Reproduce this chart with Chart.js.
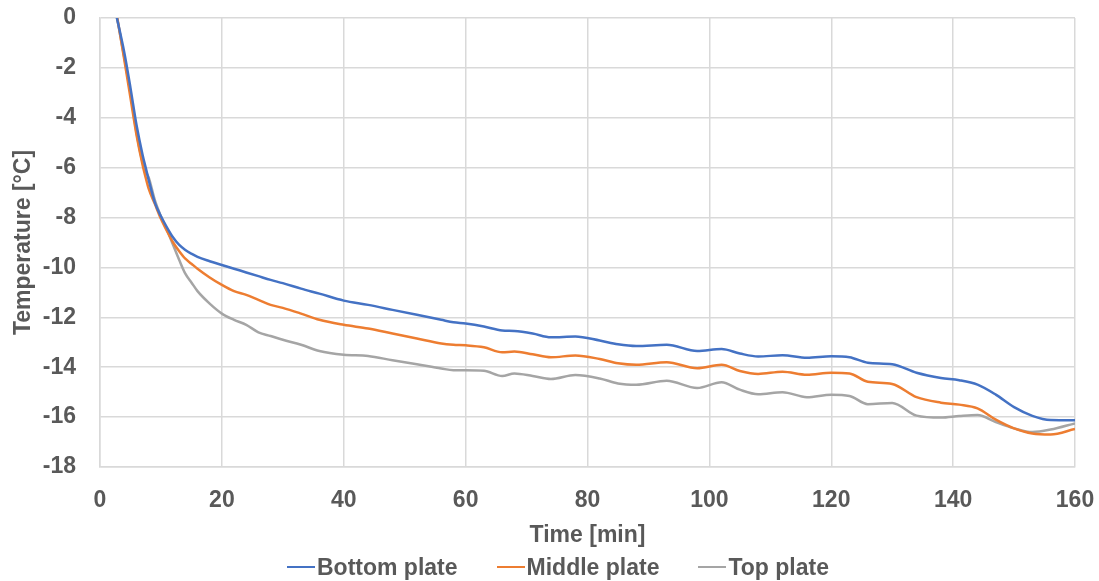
<!DOCTYPE html>
<html>
<head>
<meta charset="utf-8">
<script src="https://cdn.jsdelivr.net/npm/chart.js@4/dist/chart.umd.min.js"></script>
<style>
  html, body { margin: 0; padding: 0; background: #fff; }
  #wrap { width: 1099px; height: 581px; position: relative; }
  #legend {
    position: absolute; left: 287px; top: 553px; height: 28px;
    display: flex; align-items: center; gap: 39px;
    font: bold 23px "Liberation Sans", Arial, sans-serif; color: #595959;
    white-space: nowrap;
  }
  #legend .item { display: flex; align-items: center; }
  #legend .swatch { display: inline-block; width: 28px; height: 2.5px; margin-right: 2px; }
</style>
</head>
<body>
<div id="wrap">
  <canvas id="tempChart"></canvas>
  <div id="legend"></div>
</div>
<script>
// time axis in minutes, shared by all three plates
const minutes = [2.5, 4, 5, 6, 7, 7.5, 8, 9, 10, 11,
  12, 13, 14, 15, 16, 18, 20, 22, 24, 26,
  28, 30, 33, 36, 40, 44, 48, 52, 56, 58,
  60, 63, 66, 68, 71, 74, 78, 82, 85, 88,
  93, 98, 102, 105, 108, 112, 116, 120, 123, 126,
  130, 134, 138, 141, 144, 147, 150, 153, 156, 160];

const bottomPlate = [0.3, -1.4, -2.8, -4.3, -5.5, -6.0, -6.5, -7.4, -7.95, -8.4,
  -8.8, -9.1, -9.3, -9.45, -9.58, -9.75, -9.9, -10.05, -10.2, -10.35,
  -10.5, -10.63, -10.85, -11.05, -11.33, -11.5, -11.7, -11.9, -12.1, -12.2,
  -12.25, -12.37, -12.53, -12.55, -12.65, -12.8, -12.77, -12.93, -13.08, -13.15,
  -13.1, -13.35, -13.27, -13.45, -13.57, -13.52, -13.62, -13.56, -13.6, -13.82,
  -13.88, -14.22, -14.43, -14.52, -14.7, -15.1, -15.6, -15.95, -16.12, -16.13];

const middlePlate = [0.5, -1.7, -3.2, -4.7, -5.9, -6.4, -6.85, -7.45, -8.05, -8.55,
  -9.0, -9.35, -9.65, -9.85, -10.05, -10.4, -10.7, -10.95, -11.1, -11.3,
  -11.5, -11.62, -11.85, -12.1, -12.3, -12.45, -12.65, -12.85, -13.05, -13.1,
  -13.12, -13.2, -13.4, -13.37, -13.48, -13.6, -13.53, -13.67, -13.84, -13.9,
  -13.8, -14.04, -13.9, -14.15, -14.27, -14.18, -14.3, -14.22, -14.25, -14.58,
  -14.67, -15.2, -15.42, -15.5, -15.65, -16.1, -16.45, -16.66, -16.7, -16.48];

const topPlate = [0.4, -1.6, -3.0, -4.6, -5.8, -6.15, -6.4, -7.3, -7.95, -8.5,
  -9.1, -9.7, -10.25, -10.6, -10.95, -11.45, -11.85, -12.1, -12.3, -12.6,
  -12.75, -12.9, -13.1, -13.35, -13.5, -13.55, -13.72, -13.88, -14.05, -14.12,
  -14.12, -14.14, -14.35, -14.25, -14.35, -14.47, -14.31, -14.45, -14.65, -14.7,
  -14.54, -14.83, -14.6, -14.9, -15.08, -15.0, -15.2, -15.1, -15.15, -15.48,
  -15.43, -15.94, -16.02, -15.96, -15.92, -16.2, -16.45, -16.6, -16.5, -16.25];

const seriesNames = ['Bottom plate', 'Middle plate', 'Top plate'];
const seriesColors = ['#4472C4', '#ED7D31', '#A5A5A5'];
const xTicks = [0, 20, 40, 60, 80, 100, 120, 140, 160];
const yTicks = [0, -2, -4, -6, -8, -10, -12, -14, -16, -18];

const textColor = '#595959';
const gridColor = '#d9d9d9';
const font = { family: '"Liberation Sans", Arial, sans-serif', size: 23, weight: 'bold' };

function toPoints(values) {
  return values.map((v, i) => ({ x: minutes[i], y: v }));
}

const datasets = [bottomPlate, middlePlate, topPlate].map((vals, i) => ({
  label: seriesNames[i],
  data: toPoints(vals),
  borderColor: seriesColors[i],
  backgroundColor: seriesColors[i],
  borderWidth: 2.5,
  pointRadius: 0,
  cubicInterpolationMode: 'monotone',
  clip: 0
}));

const ctx = document.getElementById('tempChart').getContext('2d');
const chart = new Chart(ctx, {
  type: 'line',
  data: { datasets: datasets },
  options: {
    responsive: true,
    maintainAspectRatio: false,
    animation: false,
    layout: { padding: { left: 0, right: 24, top: 18, bottom: 28 } },
    scales: {
      x: {
        type: 'linear',
        min: 0,
        max: 160,
        afterBuildTicks: axis => { axis.ticks = xTicks.map(v => ({ value: v })); },
        afterFit: axis => {
          axis.height = 86;
          axis.paddingLeft = 0;
          axis.paddingRight = 0;
        },
        grid: { color: gridColor, lineWidth: 1.5, drawTicks: false },
        border: { color: gridColor, width: 1.5 },
        ticks: { color: textColor, font: font, padding: 20, maxRotation: 0 },
        title: { display: true, text: 'Time [min]', color: textColor, font: font, padding: { top: 0, bottom: 4 } }
      },
      y: {
        min: -18,
        max: 0,
        afterBuildTicks: axis => { axis.ticks = yTicks.map(v => ({ value: v })); },
        afterFit: axis => {
          axis.width = 100;
          axis.paddingTop = 0;
          axis.paddingBottom = 0;
        },
        grid: { color: gridColor, lineWidth: 1.5, drawTicks: false },
        border: { color: gridColor, width: 1.5 },
        ticks: { color: textColor, font: font, padding: 24 },
        title: { display: true, text: 'Temperature [°C]', color: textColor, font: font, padding: { top: 10, bottom: 0 } }
      }
    },
    plugins: {
      legend: { display: false },
      tooltip: { enabled: false }
    }
  }
});

// legend row under the axis title, built from the datasets
const legendEl = document.getElementById('legend');
chart.data.datasets.forEach(ds => {
  const item = document.createElement('span');
  item.className = 'item';
  const swatch = document.createElement('span');
  swatch.className = 'swatch';
  swatch.style.background = ds.borderColor;
  item.appendChild(swatch);
  item.appendChild(document.createTextNode(ds.label));
  legendEl.appendChild(item);
});
</script>
</body>
</html>
